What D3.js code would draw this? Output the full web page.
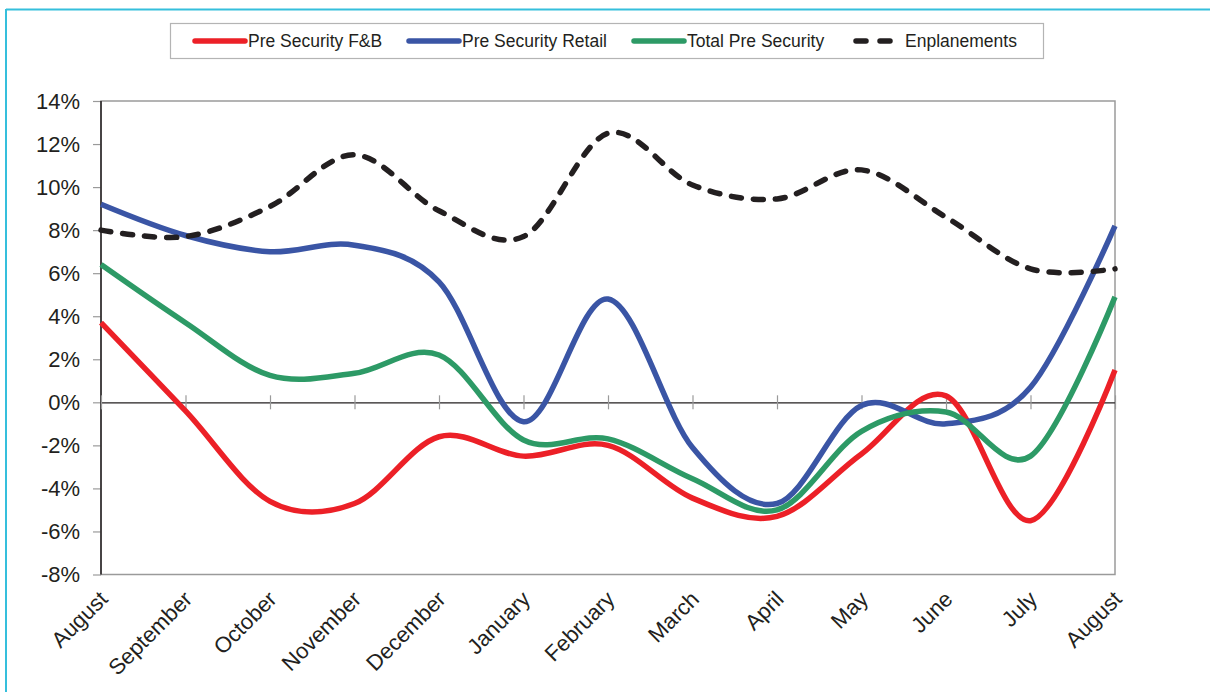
<!DOCTYPE html>
<html>
<head>
<meta charset="utf-8">
<script src="https://cdn.jsdelivr.net/npm/d3@7/dist/d3.min.js"></script>
<style>
  html, body { margin: 0; padding: 0; background: #fff; }
  svg { display: block; font-family: "Liberation Sans", Arial, sans-serif; }
</style>
</head>
<body>
<svg id="chart" width="1219" height="692"></svg>
<script>
// Month labels along the x axis (13 months, August to August)
const months = ["August", "September", "October", "November", "December", "January",
  "February", "March", "April", "May", "June", "July", "August"];

// Year-over-year change, in percent
const preSecurityFnB    = [3.7, -0.4, -4.6, -4.7, -1.6, -2.5, -2.0, -4.45, -5.3, -2.4, 0.3, -5.5, 1.5];
const preSecurityRetail = [9.2, 7.75, 7.0, 7.3, 5.6, -0.9, 4.8, -2.1, -4.7, -0.15, -1.0, 0.7, 8.2];
const totalPreSecurity  = [6.4, 3.7, 1.25, 1.35, 2.2, -1.75, -1.7, -3.55, -5.0, -1.35, -0.45, -2.5, 4.9];
const enplanements      = [8.0, 7.7, 9.1, 11.5, 8.9, 7.7, 12.5, 10.1, 9.45, 10.8, 8.6, 6.2, 6.2];

const yTicks = [-8, -6, -4, -2, 0, 2, 4, 6, 8, 10, 12, 14];

const seriesList = [
  { name: "Pre Security F&B",    values: preSecurityFnB,    color: "#ec2027", dashed: false },
  { name: "Pre Security Retail", values: preSecurityRetail, color: "#3a55a5", dashed: false },
  { name: "Total Pre Security",  values: totalPreSecurity,  color: "#2d9a66", dashed: false },
  { name: "Enplanements",        values: enplanements,      color: "#231f20", dashed: true }
];

const svg = d3.select("#chart");
const ink = "#231f20";

// outer frame
svg.append("line").attr("x1", 6).attr("x2", 1210).attr("y1", 9.5).attr("y2", 9.5)
  .attr("stroke", "#35bfdc").attr("stroke-width", 2);
svg.append("line").attr("x1", 6).attr("x2", 6).attr("y1", 9).attr("y2", 692)
  .attr("stroke", "#35bfdc").attr("stroke-width", 2);

// plot area
const plotLeft = 101, plotRight = 1115, plotTop = 101, plotBottom = 574.5;

const x = d3.scalePoint().domain(d3.range(months.length)).range([plotLeft, plotRight]);
const y = d3.scaleLinear().domain([-8, 14]).range([plotBottom, plotTop]);

// plot border (gray), left axis line drawn separately in black
svg.append("rect").attr("x", plotLeft).attr("y", plotTop)
  .attr("width", plotRight - plotLeft).attr("height", plotBottom - plotTop)
  .attr("fill", "none").attr("stroke", "#9a9a9a").attr("stroke-width", 1.5);

// y axis
const yAxis = d3.axisLeft(y).tickValues(yTicks).tickSize(8).tickPadding(13)
  .tickFormat(d => d + "%");
const gy = svg.append("g").attr("transform", `translate(${plotLeft},0)`).call(yAxis);
gy.select(".domain").remove();
gy.selectAll(".tick line").attr("stroke", "#9a9a9a").attr("stroke-width", 1.2);
gy.selectAll(".tick text").attr("fill", ink).attr("font-size", 22)
  .attr("font-family", "'Liberation Sans', Arial, sans-serif");
svg.append("line").attr("x1", plotLeft).attr("x2", plotLeft).attr("y1", plotTop).attr("y2", plotBottom)
  .attr("stroke", ink).attr("stroke-width", 1.5);

// zero line with category tick marks crossing it
const y0 = y(0);
const gx = svg.append("g").attr("transform", `translate(0,${y0})`)
  .call(d3.axisBottom(x).tickSizeInner(0).tickSizeOuter(0).tickFormat(""));
gx.select(".domain").attr("stroke", ink).attr("stroke-width", 1.2);
gx.selectAll(".tick line").remove();
gx.selectAll(".tick").append("line")
  .attr("y1", -7).attr("y2", 7).attr("stroke", "#9a9a9a").attr("stroke-width", 1.2);

// month labels below the plot, rotated
svg.append("g").selectAll("text").data(months).join("text")
  .attr("transform", (d, i) => `translate(${x(i) + 8},${plotBottom + 26}) rotate(-45)`)
  .attr("text-anchor", "end")
  .attr("font-size", 22)
  .attr("fill", ink)
  .text(d => d);

// series lines
const line = d3.line()
  .x((d, i) => x(i))
  .y(d => y(d))
  .curve(d3.curveCardinal.tension(0));

svg.append("g").selectAll("path").data(seriesList).join("path")
  .attr("d", s => line(s.values))
  .attr("fill", "none")
  .attr("stroke", s => s.color)
  .attr("stroke-width", 5.5)
  .attr("stroke-linecap", s => s.dashed ? "round" : "butt")
  .attr("stroke-linejoin", "round")
  .attr("stroke-dasharray", s => s.dashed ? "10 12" : null);

// legend
const legend = svg.append("g");
legend.append("rect").attr("x", 170.5).attr("y", 23.5).attr("width", 873).attr("height", 35)
  .attr("fill", "#fff").attr("stroke", "#b4b4b4").attr("stroke-width", 1.2);
const legendPos = [
  { lx: 195, tx: 248 },
  { lx: 409, tx: 462 },
  { lx: 634, tx: 687 },
  { lx: 853, tx: 905 }
];
const ly = 41;
seriesList.forEach((s, i) => {
  const p = legendPos[i];
  legend.append("line")
    .attr("x1", s.dashed ? p.lx + 3 : p.lx).attr("x2", s.dashed ? p.lx + 37 : p.lx + 50)
    .attr("y1", ly).attr("y2", ly)
    .attr("stroke", s.color).attr("stroke-width", 5.5)
    .attr("stroke-linecap", "round")
    .attr("stroke-dasharray", s.dashed ? "10 14" : null);
  legend.append("text").attr("x", p.tx).attr("y", ly).attr("dy", "0.35em")
    .attr("font-size", 17.5).attr("fill", ink).text(s.name);
});
</script>
</body>
</html>
